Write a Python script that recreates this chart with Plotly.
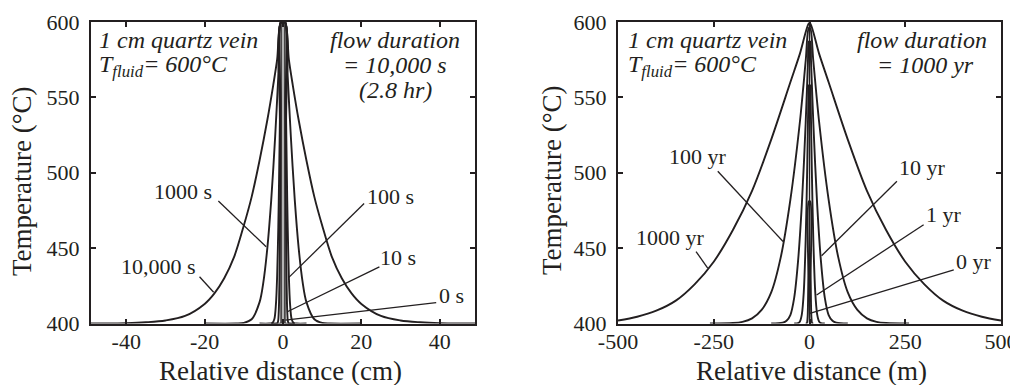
import plotly.graph_objects as go

# ---------------- data ----------------
# Left panel: distance in cm, temperature in deg C
l_10000s_x = [-49, -45, -40, -35, -30, -25, -20, -17.5, -15, -12.5, -10, -8, -6, -4, -2.5, -1.5, -0.5,
              0.5, 1.5, 2.5, 4, 6, 8, 10, 12.5, 15, 17.5, 20, 25, 30, 35, 40, 45, 49]
l_10000s_T = [400, 400, 400.2, 400.8, 402, 405, 413, 420, 430, 444, 465, 484, 508, 535, 558, 575, 600,
              600, 575, 558, 535, 508, 484, 465, 444, 430, 420, 413, 405, 402, 400.8, 400.2, 400, 400]

l_1000s_x = [-20, -12, -10, -8, -6, -5, -4, -3, -2, -1.2, -0.5, 0.5, 1.2, 2, 3, 4, 5, 6, 8, 10, 12, 20]
l_1000s_T = [400, 400, 400.4, 402.8, 414, 427.6, 450, 482, 524, 564, 600, 600, 564, 524, 482, 450, 427.6,
             414, 402.8, 400.4, 400, 400]

l_100s_x = [-6, -3.5, -2.7, -2.2, -1.8, -1.5, -1.2, -1.0, -0.8, -0.5, 0.5, 0.8, 1.0, 1.2, 1.5, 1.8, 2.2, 2.7, 3.5, 6]
l_100s_T = [400, 400, 400.4, 403, 413, 431, 464, 496, 534, 600, 600, 534, 496, 464, 431, 413, 403, 400.4, 400, 400]

l_10s_x = [-3, -1.6, -1.3, -1.1, -1.0, -0.9, -0.8, -0.7, -0.6, -0.5, 0.5, 0.6, 0.7, 0.8, 0.9, 1.0, 1.1, 1.3, 1.6, 3]
l_10s_T = [400, 400, 401, 407, 415, 431, 458, 496, 545, 600, 600, 545, 496, 458, 431, 415, 407, 401, 400, 400]

l_0s_x = [-3, -0.5, -0.5, 0.5, 0.5, 3]
l_0s_T = [400, 400, 600, 600, 400, 400]

vein_cm_x = [-0.5, -0.5, 0.5, 0.5]
vein_cm_T = [400, 600, 600, 400]

# Right panel: distance in m, temperature in deg C
r_1000yr_x = [-500, -450, -400, -350, -300, -250, -200, -150, -100, -50, -25, -1.75,
              1.75, 25, 50, 100, 150, 200, 250, 300, 350, 400, 450, 500]
r_1000yr_T = [402, 404.5, 408.5, 415, 426, 441, 462, 488, 522, 560, 579, 599,
              599, 579, 560, 522, 488, 462, 441, 426, 415, 408.5, 404.5, 402]

r_100yr_x = [-260, -200, -175, -150, -125, -100, -75, -50, -25, -10, -1.75,
             1.75, 10, 25, 50, 75, 100, 125, 150, 175, 200, 260]
r_100yr_T = [400, 400.3, 401.1, 403.4, 409, 420.6, 444, 482, 534, 574, 596,
             596, 574, 534, 482, 444, 420.6, 409, 403.4, 401.1, 400.3, 400]

r_10yr_x = [-100, -70, -60, -50, -40, -30, -20, -10, -4, -1.75, 1.75, 4, 10, 20, 30, 40, 50, 60, 70, 100]
r_10yr_T = [400, 400.6, 401.8, 405.6, 417, 441, 479, 533, 574, 587, 587, 574, 533, 479, 441, 417, 405.6, 401.8, 400.6, 400]

r_1yr_x = [-40, -30, -25, -20, -15, -10, -6, -3, -1.75, 1.75, 3, 6, 10, 15, 20, 25, 30, 40]
r_1yr_T = [400, 400.2, 401.4, 406.1, 420.7, 455.4, 502.8, 548.8, 558, 558, 548.8, 502.8, 455.4, 420.7, 406.1, 401.4, 400.2, 400]

r_0yr_x = [-10, -7, -5, -4, -3, -1.75, 1.75, 3, 4, 5, 7, 10]
r_0yr_T = [400, 400.2, 404, 412, 431, 481, 481, 431, 412, 404, 400.2, 400]

vein_m_x = [0, 0]
vein_m_T = [400, 600]

left_xticks = [-40, -20, 0, 20, 40]
left_xticklabels = ["-40", "-20", "0", "20", "40"]
right_xticks = [-500, -250, 0, 250, 500]
right_xticklabels = ["-500", "-250", "0", "250", "500"]
yticks = [400, 450, 500, 550, 600]

# curve labels: (text, label x, label T, leader start x, start T, leader end x, end T)
left_labels = [
    ("1000 s", -25.4, 487.3, -16.5, 481.3, -4.3, 450.9),
    ("10,000 s", -31.8, 437.6, -21.3, 431.0, -17.7, 420.7),
    ("100 s", 27.4, 484.0, 20.7, 479.6, 1.5, 430.6),
    ("10 s", 29.3, 443.8, 24.6, 437.6, 1.1, 407.8),
    ("0 s", 42.9, 418.9, 39.1, 413.8, 0.6, 402.3),
]
right_labels = [
    ("100 yr", -292, 511.0, -239.5, 501.0, -69.1, 454.4),
    ("1000 yr", -361.7, 457.3, -296.2, 447.7, -265.8, 436.7),
    ("10 yr", 293.8, 503.3, 228.3, 494.4, 31.6, 444.9),
    ("1 yr", 350.5, 472.2, 298.0, 465.5, 18.5, 418.9),
    ("0 yr", 429.1, 441.1, 376.7, 435.5, 0.9, 406.7),
]

# ---------------- styling ----------------
INK = "#231f20"
FONT = "Liberation Serif, Times New Roman, serif"
LW = 1.9

fig = go.Figure()

# left vein fill
fig.add_trace(go.Scatter(x=vein_cm_x, y=vein_cm_T, fill="toself", fillcolor="#b4b4b4",
                         line=dict(width=0), mode="lines", xaxis="x", yaxis="y", hoverinfo="skip"))

left_curves = [(l_10000s_x, l_10000s_T), (l_1000s_x, l_1000s_T), (l_100s_x, l_100s_T),
               (l_10s_x, l_10s_T)]
for cx, cy in left_curves:
    fig.add_trace(go.Scatter(x=cx, y=cy, mode="lines", line=dict(color=INK, width=LW, shape="spline", smoothing=0.9),
                             xaxis="x", yaxis="y"))
fig.add_trace(go.Scatter(x=l_0s_x, y=l_0s_T, mode="lines", line=dict(color=INK, width=1.4),
                         xaxis="x", yaxis="y"))

right_curves = [(r_1000yr_x, r_1000yr_T), (r_100yr_x, r_100yr_T), (r_10yr_x, r_10yr_T),
                (r_1yr_x, r_1yr_T), (r_0yr_x, r_0yr_T)]
for cx, cy in right_curves:
    fig.add_trace(go.Scatter(x=cx, y=cy, mode="lines", line=dict(color=INK, width=LW, shape="spline", smoothing=0.9),
                             xaxis="x2", yaxis="y2"))
fig.add_trace(go.Scatter(x=vein_m_x, y=vein_m_T, mode="lines", line=dict(color=INK, width=1.4),
                         xaxis="x2", yaxis="y2"))

# ---------------- axes ----------------
W, H = 1010, 385
top_px, bot_px = 22, 323.5
ydom = [1 - bot_px / H, 1 - top_px / H]

axis_common = dict(showline=True, linecolor=INK, linewidth=2, mirror="ticks", ticks="inside",
                   ticklen=5, tickwidth=1.5, tickcolor=INK, showgrid=False, zeroline=False,
                   automargin=False, ticklabeloverflow="allow",
                   tickfont=dict(family=FONT, size=22, color=INK))

fig.update_layout(
    width=W, height=H,
    margin=dict(l=0, r=0, t=0, b=0),
    paper_bgcolor="white", plot_bgcolor="white",
    showlegend=False,
    xaxis=dict(domain=[91 / W, 475 / W], range=[-49, 49], tickvals=left_xticks,
               ticktext=left_xticklabels, anchor="y", ticklabelstandoff=-3, **axis_common),
    yaxis=dict(domain=ydom, range=[400, 600], tickvals=yticks, anchor="x",
               ticklabelstandoff=5, **axis_common),
    xaxis2=dict(domain=[618 / W, 1001 / W], range=[-500, 500], tickvals=right_xticks,
                ticktext=right_xticklabels, anchor="y2", ticklabelstandoff=-3, **axis_common),
    yaxis2=dict(domain=ydom, range=[400, 600], tickvals=yticks, anchor="x2",
                ticklabelstandoff=5, **axis_common),
)

ann = []
def paper_text(text, xp, yp, size=24, angle=0, xanchor="center", italic=False):
    if italic:
        text = "<i>" + text + "</i>"
    ann.append(dict(text=text, x=xp / W, y=1 - yp / H, xref="paper", yref="paper",
                    xanchor=xanchor, yanchor="middle", showarrow=False, textangle=angle,
                    font=dict(family=FONT, size=size, color=INK)))

paper_text("Relative distance (cm)", 280, 371, 27)
paper_text("Temperature (°C)", 22, 181, 27, angle=-90)
paper_text("Relative distance (m)", 811, 371, 27)
paper_text("Temperature (°C)", 552, 180, 27, angle=-90)

# panel notes
paper_text("1 cm quartz vein", 97, 40, 24, xanchor="left", italic=True)
paper_text("T<sub>fluid</sub>= 600°C", 97, 66, 24, xanchor="left", italic=True)
paper_text("flow duration", 395, 40, 24, italic=True)
paper_text("= 10,000 s", 395, 65, 24, italic=True)
paper_text("(2.8 hr)", 395, 90, 24, italic=True)

paper_text("1 cm quartz vein", 626, 40, 24, xanchor="left", italic=True)
paper_text("T<sub>fluid</sub>= 600°C", 626, 66, 24, xanchor="left", italic=True)
paper_text("flow duration", 922, 40, 24, italic=True)
paper_text("= 1000 yr", 925, 65, 24, italic=True)

shapes = []
for labels, xr, yr in [(left_labels, "x", "y"), (right_labels, "x2", "y2")]:
    for text, lx, ly, sx, sy, ex, ey in labels:
        ann.append(dict(text=text, x=lx, y=ly, xref=xr, yref=yr, showarrow=False,
                        xanchor="center", yanchor="middle",
                        font=dict(family=FONT, size=22, color=INK)))
        shapes.append(dict(type="line", x0=sx, y0=sy, x1=ex, y1=ey, xref=xr, yref=yr,
                           line=dict(color=INK, width=1.3)))

fig.update_layout(annotations=ann, shapes=shapes)

fig.write_html("out.html", config={"displayModeBar": False},
               post_script="document.body.style.margin='0';document.body.style.overflow='hidden';")
